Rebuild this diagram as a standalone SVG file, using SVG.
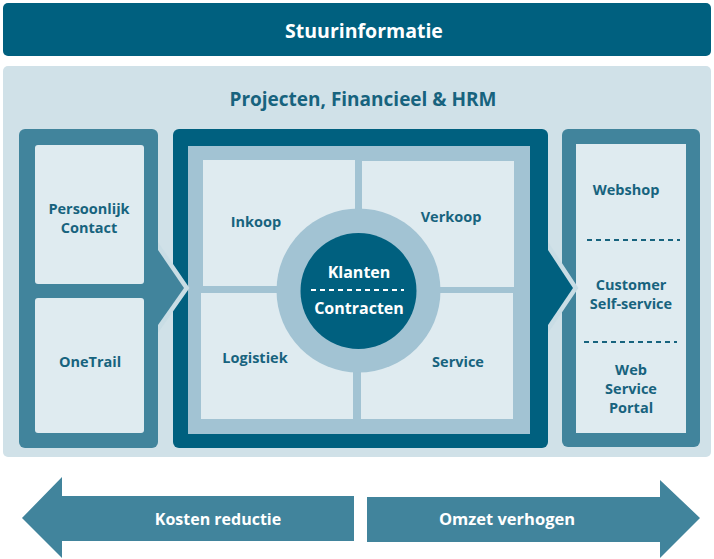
<svg xmlns="http://www.w3.org/2000/svg" width="714" height="559" viewBox="0 0 714 559">
<style>
text{font-family:"Open Sans",Lato,"Liberation Sans",sans-serif;font-weight:bold;text-anchor:middle}
.w{fill:#ffffff}
.t{fill:#17637e;font-size:14.5px}
.dark{fill:#00607f}
.mid{fill:#41849c}
.frame{fill:#a2c3d3}
.pale{fill:#dfebf0}
.halo{fill:none;stroke:#c9dde5;stroke-width:9;stroke-linejoin:miter}
.dw{stroke:#ffffff;stroke-width:2;stroke-dasharray:5 4}
.dt{stroke:#17637e;stroke-width:2;stroke-dasharray:5 4}
</style>
<rect width="714" height="559" fill="#ffffff"/>
<g id="stuurinformatie">
<rect class="dark" x="3" y="3" width="708" height="53" rx="5"/>
<text class="w" x="364" y="38" font-size="19.5">Stuurinformatie</text>
</g>
<g id="panel">
<rect x="3" y="66" width="708" height="391" rx="5" fill="#d0e1e8"/>
<text x="363" y="106" font-size="19" fill="#17637e">Projecten, Financieel &amp; HRM</text>
</g>
<g id="kanalen">
<rect class="mid" x="562" y="129" width="138" height="318" rx="6"/>
<rect class="pale" x="576" y="144" width="110" height="289"/>
<text class="t" x="626" y="195">Webshop</text>
<text class="t" x="631" y="290">Customer</text>
<text class="t" x="631" y="309">Self-service</text>
<text class="t" x="631" y="375">Web</text>
<text class="t" x="631" y="394">Service</text>
<text class="t" x="631" y="413">Portal</text>
</g>
<g id="kern">
<polygon class="halo" points="548,250 573,288 548,325"/>
<rect class="dark" x="173" y="129" width="375" height="319" rx="6"/>
<polygon class="dark" points="540,250 548,250 573,288 548,325 540,325"/>
<rect class="frame" x="188" y="146" width="342" height="288"/>
<rect class="pale" x="203" y="160" width="152" height="126"/>
<rect class="pale" x="362" y="161" width="152" height="126"/>
<rect class="pale" x="201" y="293" width="152" height="126"/>
<rect class="pale" x="361" y="293" width="152" height="126"/>
<text class="t" x="256" y="227">Inkoop</text>
<text class="t" x="451" y="222">Verkoop</text>
<text class="t" x="255" y="363">Logistiek</text>
<text class="t" x="458" y="367">Service</text>
<circle class="frame" cx="358.5" cy="290.5" r="82"/>
<circle class="dark" cx="358.5" cy="291" r="58"/>
<text class="w" x="359" y="278" font-size="16">Klanten</text>
<text class="w" x="359" y="314" font-size="16">Contracten</text>
</g>
<g id="contact">
<polygon class="halo" points="158,250 184,288 158,325"/>
<rect class="mid" x="19" y="129" width="139" height="319" rx="6"/>
<polygon class="mid" points="150,250 158,250 184,288 158,325 150,325"/>
<rect class="pale" x="35" y="145" width="109" height="139" rx="3"/>
<rect class="pale" x="35" y="298" width="109" height="135" rx="3"/>
<text class="t" x="89" y="214">Persoonlijk</text>
<text class="t" x="89" y="233">Contact</text>
<text class="t" x="90" y="367">OneTrail</text>
</g>
<g id="kosten">
<polygon class="mid" points="22,518 62,477 62,496 354,496 354,541 62,541 62,558"/>
<text class="w" x="218" y="525" font-size="16">Kosten reductie</text>
</g>
<g id="omzet">
<polygon class="mid" points="700,518 660,480 660,497 367,497 367,542 660,542 660,558"/>
<text class="w" x="507" y="525" font-size="16.5">Omzet verhogen</text>
</g>
<g id="connectors">
<line class="dw" x1="311" y1="290" x2="404" y2="290"/>
<line class="dt" x1="587" y1="240" x2="680" y2="240"/>
<line class="dt" x1="584" y1="342" x2="677" y2="342"/>
</g>
</svg>
